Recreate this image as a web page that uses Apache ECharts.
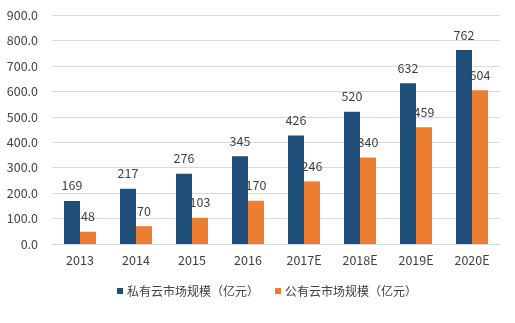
<!DOCTYPE html>
<html><head><meta charset="utf-8">
<script src="https://cdn.jsdelivr.net/npm/echarts@6/dist/echarts.min.js"></script>
<style>html,body{margin:0;padding:0;background:#fff}#c{width:515px;height:323px}</style>
</head><body><div id="c"></div>
<script>
const categories = ['2013','2014','2015','2016','2017E','2018E','2019E','2020E'];
const privateCloud = [169,217,276,345,426,520,632,762];
const publicCloud = [48,70,103,170,246,340,459,604];
const seriesNames = ['私有云市场规模（亿元）','公有云市场规模（亿元）'];

const chart = echarts.init(document.getElementById('c'));
const font = '"Noto Sans CJK SC","Noto Sans",sans-serif';
chart.setOption({
  animation:false,
  textStyle:{fontFamily:font},
  grid:{left:52,right:15,top:15,bottom:79},
  legend:{
    data:seriesNames, top:280, left:112,
    itemWidth:6,itemHeight:6,itemGap:16,icon:'rect',
    textStyle:{fontSize:12,color:'#404040',fontFamily:font,padding:[0,0,0,-1]}
  },
  xAxis:{
    type:'category',data:categories,
    axisLine:{lineStyle:{color:'#d9d9d9'}},axisTick:{show:false},
    axisLabel:{color:'#404040',fontSize:12.5,margin:10,fontFamily:font}
  },
  yAxis:{
    type:'value',min:0,max:900,interval:100,
    axisLine:{show:false},axisTick:{show:false},
    splitLine:{lineStyle:{color:'#d9d9d9'}},
    axisLabel:{color:'#404040',fontSize:12.5,margin:14,fontFamily:font,formatter:v=>v.toFixed(1)}
  },
  series:[
    {name:seriesNames[0],type:'bar',data:privateCloud,barWidth:16,barGap:'0%',
     itemStyle:{color:'#1f4e79'},
     label:{show:true,position:'top',distance:9,color:'#404040',fontSize:12.5,fontFamily:font}},
    {name:seriesNames[1],type:'bar',data:publicCloud,barWidth:16,
     itemStyle:{color:'#ed7d31'},
     label:{show:true,position:'top',distance:9,color:'#404040',fontSize:12.5,fontFamily:font}}
  ]
});
</script></body></html>
